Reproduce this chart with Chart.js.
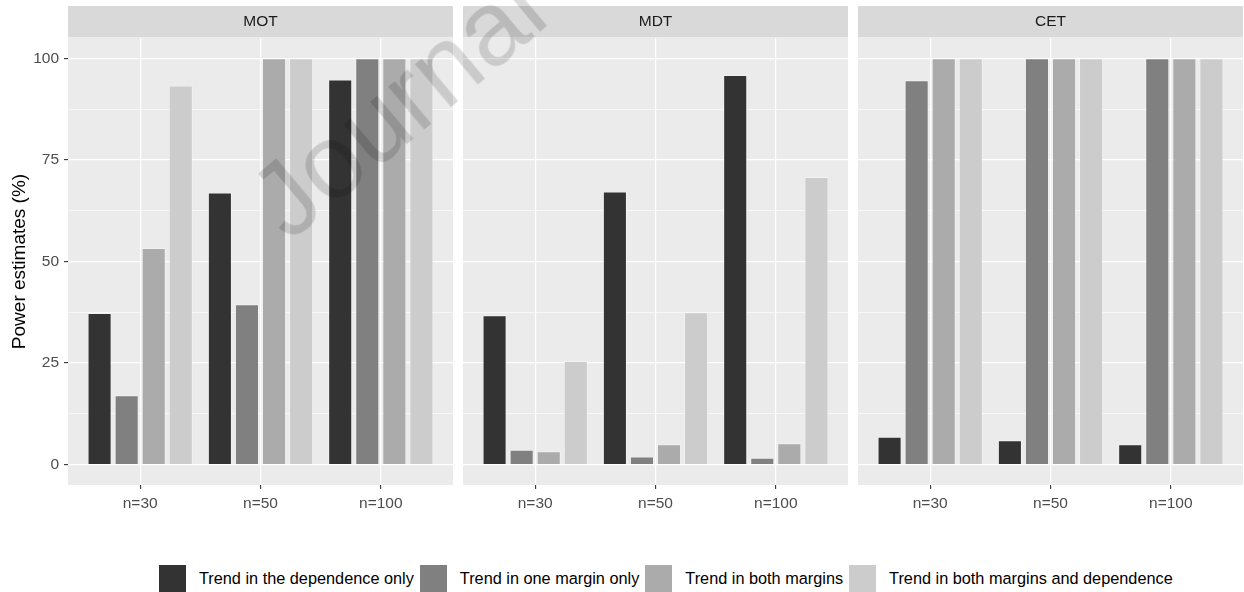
<!DOCTYPE html>
<html>
<head>
<meta charset="utf-8">
<script src="https://cdn.jsdelivr.net/npm/chart.js@4.4.0/dist/chart.umd.min.js"></script>
<style>
  html, body { margin: 0; padding: 0; background: #fff; width: 1244px; height: 592px; overflow: hidden;
               font-family: "Liberation Sans", Arial, sans-serif; }
  canvas { position: absolute; top: 0; }
  #legend { position: absolute; left: 159px; top: 565px; height: 27px; display: flex; align-items: center; }
  #legend .key { width: 27px; height: 27px; flex: none; }
  #legend .lab { font-size: 16.3px; color: #000; margin-left: 13px; margin-right: 6px; white-space: nowrap; }
  #mark { position: absolute; left: 0; top: 0; transform-origin: 0 0;
          transform: translate(289px, 243px) rotate(-40deg) translate(0, -89px);
          font-size: 105px; line-height: 1; white-space: nowrap; color: rgba(0, 0, 0, 0.14);
          pointer-events: none; }
</style>
</head>
<body>
<canvas id="c0" width="453" height="520" style="left:0px"></canvas>
<canvas id="c1" width="385" height="520" style="left:463px"></canvas>
<canvas id="c2" width="385" height="520" style="left:858px"></canvas>
<div id="legend"></div>
<div id="mark">Journal Pre-proof</div>

<script>
// Facets, sample sizes and test scenarios
const facets = ['MOT', 'MDT', 'CET'];
const sampleSizes = ['n=30', 'n=50', 'n=100'];
const scenarios = [
  'Trend in the dependence only',
  'Trend in one margin only',
  'Trend in both margins',
  'Trend in both margins and dependence'
];

// Power estimates (%) per facet and scenario, ordered n=30, n=50, n=100
const motDependence   = [37.3, 67.0, 94.8];
const motOneMargin    = [17.1, 39.5, 100];
const motBothMargins  = [53.3, 100, 100];
const motBothAndDep   = [93.3, 100, 100];

const mdtDependence   = [36.8, 67.2, 95.9];
const mdtOneMargin    = [3.7, 2.0, 1.7];
const mdtBothMargins  = [3.3, 5.0, 5.3];
const mdtBothAndDep   = [25.5, 37.5, 70.8];

const cetDependence   = [6.9, 6.0, 5.0];
const cetOneMargin    = [94.6, 100, 100];
const cetBothMargins  = [100, 100, 100];
const cetBothAndDep   = [100, 100, 100];

// Axis ticks
const yMajorTicks = [0, 25, 50, 75, 100];
const yMinorTicks = [12.5, 37.5, 62.5, 87.5];

const fillColors = ['#333333', '#808080', '#ababab', '#cccccc'];

const facetValues = [
  [motDependence, motOneMargin, motBothMargins, motBothAndDep],
  [mdtDependence, mdtOneMargin, mdtBothMargins, mdtBothAndDep],
  [cetDependence, cetOneMargin, cetBothMargins, cetBothAndDep]
];

const FONT = '"Liberation Sans", Arial, sans-serif';
const PANEL_TOP = 38, PANEL_BOTTOM = 485, CANVAS_H = 520;

// Grey panel background and facet strip
const panelPlugin = {
  id: 'panel',
  beforeDraw(chart, args, opts) {
    const { ctx, chartArea: a } = chart;
    ctx.save();
    ctx.fillStyle = '#ebebeb';
    ctx.fillRect(a.left, a.top, a.right - a.left, a.bottom - a.top);
    ctx.fillStyle = '#d9d9d9';
    ctx.fillRect(a.left, 6, a.right - a.left, a.top - 6.5);
    ctx.fillStyle = '#1a1a1a';
    ctx.font = '15.5px ' + FONT;
    ctx.textAlign = 'center';
    ctx.textBaseline = 'middle';
    ctx.fillText(opts.text, (a.left + a.right) / 2, 22);
    ctx.restore();
  }
};

function makeChart(canvasId, facetIdx, showY) {
  const datasets = scenarios.map((name, s) => ({
    label: name,
    data: facetValues[facetIdx][s].map((v, i) => ({ x: i + 1, y: v })),
    backgroundColor: fillColors[s],
    borderColor: 'rgba(255,255,255,0.35)',
    borderWidth: 1,
    categoryPercentage: 0.9,
    barPercentage: 0.8 / 0.9
  }));

  const isMajorY = v => yMajorTicks.includes(v);

  return new Chart(document.getElementById(canvasId), {
    type: 'bar',
    data: { datasets },
    plugins: [panelPlugin],
    options: {
      responsive: false,
      animation: false,
      layout: { padding: { top: PANEL_TOP, left: 0, right: 0, bottom: 0 } },
      plugins: {
        legend: { display: false },
        tooltip: { enabled: false },
        panel: { text: facets[facetIdx] }
      },
      scales: {
        x: {
          type: 'linear',
          offset: false,
          min: 0.4,
          max: 3.6,
          afterBuildTicks: sc => { sc.ticks = sampleSizes.map((_, i) => ({ value: i + 1 })); },
          afterFit: sc => { sc.height = CANVAS_H - PANEL_BOTTOM; },
          grid: { offset: false, color: '#ffffff', lineWidth: 1.2, tickColor: '#333333', tickLength: 4, tickWidth: 1.1 },
          border: { display: false },
          ticks: {
            padding: 5,
            color: '#4d4d4d',
            font: { family: FONT, size: 15.5 },
            maxRotation: 0,
            autoSkip: false,
            callback: v => sampleSizes[v - 1]
          }
        },
        y: {
          min: -5,
          max: 105,
          afterBuildTicks: sc => {
            sc.ticks = yMajorTicks.concat(yMinorTicks).sort((a, b) => a - b).map(v => ({ value: v }));
          },
          afterFit: sc => { sc.width = showY ? 68 : 0; },
          grid: {
            color: '#ffffff',
            lineWidth: c => (isMajorY(c.tick.value) ? 1.2 : 0.6),
            drawTicks: showY,
            tickLength: 4,
            tickWidth: 1.1,
            tickColor: c => (isMajorY(c.tick.value) ? '#333333' : 'rgba(0,0,0,0)')
          },
          border: { display: false },
          ticks: {
            display: showY,
            padding: 5,
            color: '#4d4d4d',
            font: { family: FONT, size: 15.5 },
            callback: v => (isMajorY(v) ? String(v) : '')
          },
          title: {
            display: showY,
            text: 'Power estimates (%)',
            color: '#000000',
            font: { family: FONT, size: 19 },
            padding: { top: 8, bottom: 0 }
          }
        }
      }
    }
  });
}

makeChart('c0', 0, true);
makeChart('c1', 1, false);
makeChart('c2', 2, false);

// Legend row
const legend = document.getElementById('legend');
scenarios.forEach((name, s) => {
  const key = document.createElement('div');
  key.className = 'key';
  key.style.background = fillColors[s];
  const lab = document.createElement('span');
  lab.className = 'lab';
  lab.textContent = name;
  legend.appendChild(key);
  legend.appendChild(lab);
});
</script>
</body>
</html>
